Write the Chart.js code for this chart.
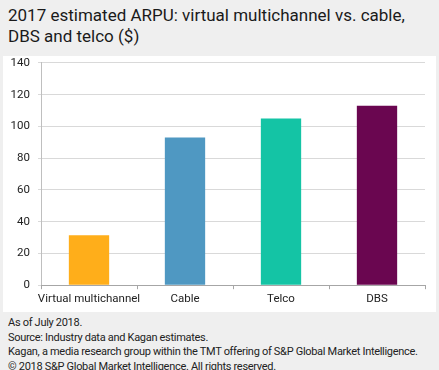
<!DOCTYPE html>
<html>
<head>
<meta charset="utf-8">
<script src="https://cdn.jsdelivr.net/npm/chart.js@4"></script>
<style>
  body { margin: 0; background: #efefef; width: 439px; height: 370px; overflow: hidden; font-family: "Roboto", "Noto Sans", sans-serif; color: #222; }
  #title { position: absolute; left: 8px; top: 5px; font-size: 17px; line-height: 21px; color: #1a1a1a; }
  #panel { position: absolute; left: 3px; top: 56px; width: 433px; height: 256px; background: #fff; }
  #myChart { position: absolute; left: 3px; top: 48px; }
  #foot { position: absolute; left: 8px; top: 316px; font-size: 11px; line-height: 14.6px; color: #222; letter-spacing: -0.3px; white-space: nowrap; }
</style>
</head>
<body>
<div id="title">2017 estimated ARPU: virtual multichannel vs. cable,<br>DBS and telco ($)</div>
<div id="panel"></div>
<canvas id="myChart" width="433" height="264"></canvas>
<div id="foot">As of July 2018.<br>Source: Industry data and Kagan estimates.<br>Kagan, a media research group within the TMT offering of S&amp;P Global Market Intelligence.<br>© 2018 S&amp;P Global Market Intelligence. All rights reserved.</div>
<script>
const categorias = ['Virtual multichannel', 'Cable', 'Telco', 'DBS'];
const valores = [31.5, 93, 105, 113];
const colores = ['#FFAE1A', '#4F98C2', '#14C4A5', '#6A0650'];

const ctx = document.querySelector('#myChart');
const chart = new Chart(ctx, {
  type: 'bar',
  data: {
    labels: categorias,
    datasets: [{
      data: valores,
      backgroundColor: colores,
      barPercentage: 0.42,
      categoryPercentage: 1
    }]
  },
  options: {
    responsive: false,
    animation: false,
    layout: { padding: { top: 0, right: 11, left: 0, bottom: 3 } },
    plugins: { legend: { display: false }, tooltip: { enabled: false } },
    scales: {
      y: {
        min: 0, max: 140,
        afterFit: s => { s.width = 38; },
        ticks: { stepSize: 20, color: '#222', font: { size: 11.5, family: 'Roboto' }, padding: 8 },
        grid: { color: '#d9d9d9', tickLength: 3 },
        border: { color: '#bfbfbf' }
      },
      x: {
        ticks: { color: '#222', font: { size: 11.5, family: 'Roboto' }, padding: 3, maxRotation: 0, minRotation: 0, autoSkip: false },
        grid: { drawOnChartArea: false, color: '#a6a6a6', tickLength: 4 },
        border: { color: '#a6a6a6' }
      }
    }
  }
});
</script>
</body>
</html>
